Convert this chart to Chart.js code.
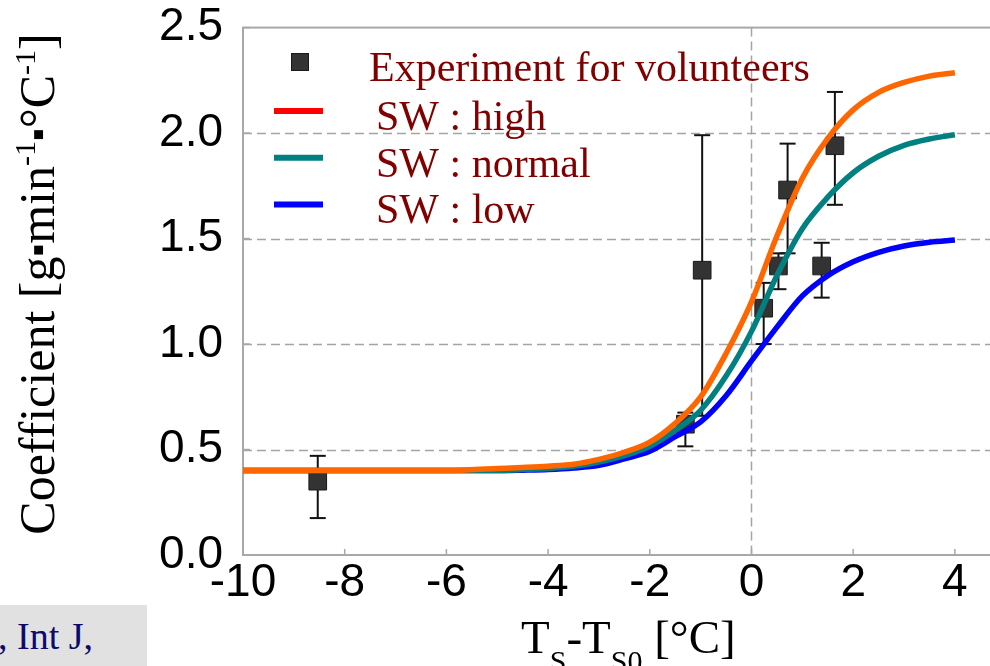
<!DOCTYPE html>
<html>
<head>
<meta charset="utf-8">
<script src="https://cdn.jsdelivr.net/npm/chart.js@4.4.7/dist/chart.umd.min.js"></script>
<style>
  html, body { margin: 0; padding: 0; background: #fff; overflow: hidden; }
  #wrap { position: relative; width: 990px; height: 666px; overflow: hidden; }
  #chart { position: absolute; left: 0; top: -20px; }
  #ref {
    position: absolute; left: 0; top: 605px; width: 147px; height: 61px;
    background: #e1e1e1; overflow: hidden; white-space: nowrap;
    font: 38px "Liberation Serif", "Times New Roman", serif; color: #0b0b6b;
  }
  #ref span { position: absolute; left: -2px; top: 12px; line-height: 38px; }
</style>
</head>
<body>
<div id="wrap">
  <canvas id="chart" width="1005" height="686"></canvas>
  <div id="ref"><span>, Int J,</span></div>
</div>
<script>
// simulated curves
const curveX  = [-10, -8, -6, -5, -4.5, -4, -3.5, -3, -2.5, -2, -1.5, -1, -0.5, 0, 0.5, 1, 1.5, 2, 2.5, 3, 3.5, 4]
const highY   = [0.40, 0.40, 0.40, 0.41, 0.415, 0.421, 0.43, 0.453, 0.487, 0.535, 0.624, 0.749, 0.955, 1.20, 1.512, 1.786, 1.975, 2.11, 2.193, 2.24, 2.27, 2.286]
const normalY = [0.40, 0.40, 0.40, 0.40, 0.405, 0.41, 0.42, 0.441, 0.471, 0.515, 0.591, 0.686, 0.848, 1.06, 1.325, 1.547, 1.696, 1.812, 1.89, 1.942, 1.972, 1.992]
const lowY    = [0.40, 0.40, 0.40, 0.40, 0.402, 0.405, 0.412, 0.425, 0.456, 0.492, 0.561, 0.631, 0.755, 0.92, 1.08, 1.228, 1.324, 1.39, 1.435, 1.465, 1.483, 1.493]

// experiment points with error range
const expX    = [-8.53, -1.30, -0.97, 0.24, 0.53, 0.71, 1.38, 1.64]
const expY    = [0.35, 0.62, 1.35, 1.17, 1.37, 1.73, 1.37, 1.94]
const expLow  = [0.175, 0.515, 0.66, 1.00, 1.26, 1.43, 1.22, 1.66]
const expHigh = [0.47, 0.675, 1.99, 1.29, 1.43, 1.95, 1.48, 2.195]

const xTicks = [-10, -8, -6, -4, -2, 0, 2, 4]
const yTicks = [0, 0.5, 1.0, 1.5, 2.0, 2.5]

const serif = '"Liberation Serif", "Times New Roman", serif'
const sans = '"Liberation Sans", Arial, sans-serif'
const shiftY = 20 // canvas sits 20px above the page top

function line(ctx, x1, y1, x2, y2) {
  ctx.beginPath()
  ctx.moveTo(x1, y1)
  ctx.lineTo(x2, y2)
  ctx.stroke()
}

// draws a run of [text, size, shift] pieces starting at x along the baseline
function drawRun(ctx, parts, x, y) {
  parts.forEach(([t, size, shift]) => {
    ctx.font = size + "px " + serif
    ctx.fillText(t, x, y + shift)
    x += ctx.measureText(t).width
  })
  return x
}

function runWidth(ctx, parts) {
  let w = 0
  parts.forEach(([t, size]) => {
    ctx.font = size + "px " + serif
    w += ctx.measureText(t).width
  })
  return w
}

const decor = {
  id: "decor",
  beforeDatasetsDraw(chart) {
    const { ctx, chartArea: a, scales: { x, y } } = chart
    ctx.save()

    // dashed grid
    ctx.strokeStyle = "#a4a4a4"
    ctx.lineWidth = 1.5
    ctx.setLineDash([9, 5])
    yTicks.forEach(v => {
      if (v <= y.min || v >= y.max) return
      const py = Math.round(y.getPixelForValue(v)) + 0.5
      line(ctx, a.left, py, a.right, py)
    })
    const px0 = Math.round(x.getPixelForValue(0)) + 0.5
    line(ctx, px0, a.top, px0, a.bottom)
    ctx.setLineDash([])

    // frame and inner ticks
    ctx.strokeStyle = "#a8a8a8"
    ctx.lineWidth = 2
    ctx.strokeRect(a.left, a.top, a.right - a.left, a.bottom - a.top)
    ctx.lineWidth = 1.5
    xTicks.forEach(v => {
      const px = x.getPixelForValue(v)
      line(ctx, px, a.bottom, px, a.bottom - 6)
    })
    yTicks.forEach(v => {
      const py = y.getPixelForValue(v)
      line(ctx, a.left, py, a.left + 7, py)
    })

    // error bars
    ctx.strokeStyle = "#111"
    ctx.lineWidth = 2
    expX.forEach((v, i) => {
      const px = x.getPixelForValue(v)
      const lo = y.getPixelForValue(expLow[i])
      const hi = y.getPixelForValue(expHigh[i])
      line(ctx, px, lo, px, hi)
      line(ctx, px - 8, lo, px + 8, lo)
      line(ctx, px - 8, hi, px + 8, hi)
    })
    ctx.restore()
  },

  afterDraw(chart) {
    const { ctx } = chart
    ctx.save()
    ctx.translate(0, shiftY)
    ctx.textBaseline = "alphabetic"
    ctx.textAlign = "left"

    // legend
    const sets = chart.data.datasets
    const exp = sets[3]
    ctx.fillStyle = exp.backgroundColor
    ctx.fillRect(291.5, 53.5, 17, 17)
    ctx.strokeStyle = exp.borderColor
    ctx.lineWidth = 1
    ctx.strokeRect(291.5, 53.5, 17, 17)
    ctx.font = "42px " + serif
    ctx.fillStyle = "#800000"
    ctx.fillText(exp.label, 369, 81)

    ;[0, 1, 2].forEach((d, i) => {
      const ly = 111 + i * 46.7
      ctx.strokeStyle = sets[d].legendColor
      ctx.lineWidth = 6
      line(ctx, 274, ly, 323, ly)
      ctx.fillStyle = "#800000"
      ctx.font = "42px " + serif
      ctx.fillText(sets[d].label, 376, 130 + i * 46.5)
    })

    // x title with subscripts
    ctx.fillStyle = "#000"
    const xParts = [["T", 47, 0], ["S", 30, 18], ["-T", 47, 0], ["S0", 30, 18], [" [", 47, 0], ["\u00B0C]", 47, 0]]
    drawRun(ctx, xParts, 521, 653)

    // y title, rotated
    const yParts = [["Coefficient [g", 50, 0], ["\u25AA", 36, -4], ["min", 50, 0], ["-1", 30, -19],
                    ["\u25AA", 36, -4], ["\u00B0C", 50, 0], ["-1", 30, -19], ["]", 50, 0]]
    ctx.translate(54, 284)
    ctx.rotate(-Math.PI / 2)
    drawRun(ctx, yParts, -runWidth(ctx, yParts) / 2, 0)
    ctx.restore()
  }
}

const pts = ys => curveX.map((x, i) => ({ x, y: ys[i] }))

new Chart(document.getElementById("chart"), {
  type: "scatter",
  data: {
    datasets: [
      { label: "SW : high", data: pts(highY), showLine: true, borderColor: "#ff6600", legendColor: "#ff0000",
        borderWidth: 5.5, pointRadius: 0, cubicInterpolationMode: "monotone", order: 0 },
      { label: "SW : normal", data: pts(normalY), showLine: true, borderColor: "#008080", legendColor: "#008080",
        borderWidth: 5.5, pointRadius: 0, cubicInterpolationMode: "monotone", order: 1 },
      { label: "SW : low", data: pts(lowY), showLine: true, borderColor: "#0000ff", legendColor: "#0000ff",
        borderWidth: 5.5, pointRadius: 0, cubicInterpolationMode: "monotone", order: 2 },
      { label: "Experiment for volunteers", data: expX.map((x, i) => ({ x, y: expY[i] })),
        pointStyle: "rect", pointRadius: 12.5, backgroundColor: "#333333", borderColor: "#1a1a1a",
        borderWidth: 1, order: 3 }
    ]
  },
  options: {
    responsive: false,
    animation: false,
    devicePixelRatio: 1,
    layout: { padding: { top: 6, left: 0, right: 0, bottom: 0 } },
    plugins: { legend: { display: false }, tooltip: { enabled: false } },
    scales: {
      x: {
        type: "linear",
        min: -10,
        max: 4.72,
        afterBuildTicks: s => { s.ticks = xTicks.map(v => ({ value: v })) },
        afterFit: s => { s.height = 111 },
        grid: { display: false, drawTicks: false },
        border: { display: false },
        ticks: { color: "#000", font: { family: sans, size: 46 }, padding: 1, maxRotation: 0, autoSkip: false }
      },
      y: {
        min: 0,
        max: 2.5,
        afterBuildTicks: s => { s.ticks = yTicks.map(v => ({ value: v })) },
        afterFit: s => { s.width = 243 },
        grid: { display: false, drawTicks: false },
        border: { display: false },
        ticks: { color: "#000", font: { family: sans, size: 46 }, padding: 20, callback: v => v.toFixed(1) }
      }
    }
  },
  plugins: [decor]
})
</script>
</body>
</html>
